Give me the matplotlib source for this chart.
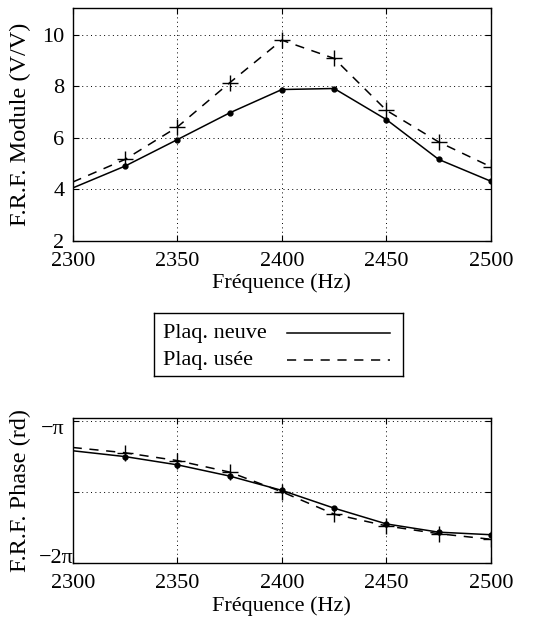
import numpy as np
import matplotlib.pyplot as plt
from matplotlib.transforms import ScaledTranslation

plt.rcParams['font.family'] = ['Liberation Serif', 'DejaVu Serif']
plt.rcParams['font.size'] = 16

freq = [2300, 2325, 2350, 2375, 2400, 2425, 2450, 2475, 2500]

# module (V/V)
mod_neuve = [4.05, 4.90, 5.93, 6.97, 7.88, 7.92, 6.71, 5.16, 4.31]
mod_usee = [4.28, 5.16, 6.42, 8.14, 9.80, 9.09, 7.07, 5.84, 4.87]

# phase, as fraction of pi above -2pi
ph_neuve = [0.792, 0.751, 0.693, 0.614, 0.513, 0.388, 0.277, 0.219, 0.201]
ph_usee = [0.815, 0.778, 0.723, 0.642, 0.503, 0.346, 0.263, 0.208, 0.169]

labels = ['Plaq. neuve', 'Plaq. usée']
xt = [2300, 2350, 2400, 2450, 2500]

fig = plt.figure(figsize=(5.49, 6.24), dpi=100)
ax1 = fig.add_axes([0.1324, 0.6143, 0.762, 0.3724])
ax2 = fig.add_axes([0.1324, 0.0973, 0.762, 0.2324])

DASH = (0, (6, 5))

def style(ax):
	ax.grid(True, color='black', linestyle=(0, (1, 3.5)), linewidth=0.7)
	ax.tick_params(direction='in', top=True, right=True, length=4, width=0.8, labelsize=16)
	ax.tick_params(axis='x', pad=8)
	ax.tick_params(axis='y', pad=6)
	for s in ax.spines.values():
		s.set_linewidth(1.0)
	ax.yaxis.set_label_coords(-0.1, 0.5)

ax1.plot(freq, mod_neuve, color='black', lw=1.1, marker='.', ms=7, markevery=slice(1, None))
ax1.plot(freq, mod_usee, color='black', lw=1.1, ls=DASH, marker='+', ms=12, mew=1.0, markevery=slice(1, None))
ax1.set_xlim(2300, 2500)
ax1.set_ylim(2, 11.04)
ax1.set_yticks([2, 4, 6, 8, 10])
ax1.set_xticks(xt)
ax1.set_xlabel('Fréquence (Hz)', fontsize=16, labelpad=2)
ax1.set_ylabel('F.R.F. Module (V/V)', fontsize=17.5)
style(ax1)

pn = -2 * np.pi + np.pi * np.array(ph_neuve)
pu = -2 * np.pi + np.pi * np.array(ph_usee)
ax2.plot(freq, pn, color='black', lw=1.1, marker='.', ms=7, markevery=slice(1, None))
ax2.plot(freq, pu, color='black', lw=1.1, ls=DASH, marker='+', ms=12, mew=1.0, markevery=slice(1, None))
ax2.set_xlim(2300, 2500)
ax2.set_ylim(-2 * np.pi, -np.pi + 0.065)
ax2.set_yticks([-2 * np.pi, -1.5 * np.pi, -np.pi])
ax2.set_yticklabels(['−2π', '', '−π'])
ax2.set_xticks(xt)
ax2.set_xlabel('Fréquence (Hz)', fontsize=16, labelpad=2)
ax2.set_ylabel('F.R.F. Phase (rd)', fontsize=17.5)
style(ax2)

# nudge the pi labels the way the original sits them
tl = ax2.get_yticklabels()
tl[0].set_transform(tl[0].get_transform() + ScaledTranslation(7 / 72, 5 / 72, fig.dpi_scale_trans))
tl[2].set_transform(tl[2].get_transform() + ScaledTranslation(0, -4 / 72, fig.dpi_scale_trans))

# legend box drawn by hand: labels on the left, line samples on the right
lg = fig.add_axes([154 / 549, 1 - 376 / 624, 249 / 549, 63.3 / 624])
lg.set_xlim(0, 249)
lg.set_ylim(63.3, 0)
lg.set_xticks([])
lg.set_yticks([])
for s in lg.spines.values():
	s.set_linewidth(1.0)
rows = [20.6, 47.3]
styles = ['-', DASH]
for lab, yy, st in zip(labels, rows, styles):
	lg.text(9, yy, lab, fontsize=16, va='center', ha='left')
	lg.plot([133, 236], [yy, yy], color='black', lw=1.1, ls=st)

fig.savefig('out.png', dpi=100)
